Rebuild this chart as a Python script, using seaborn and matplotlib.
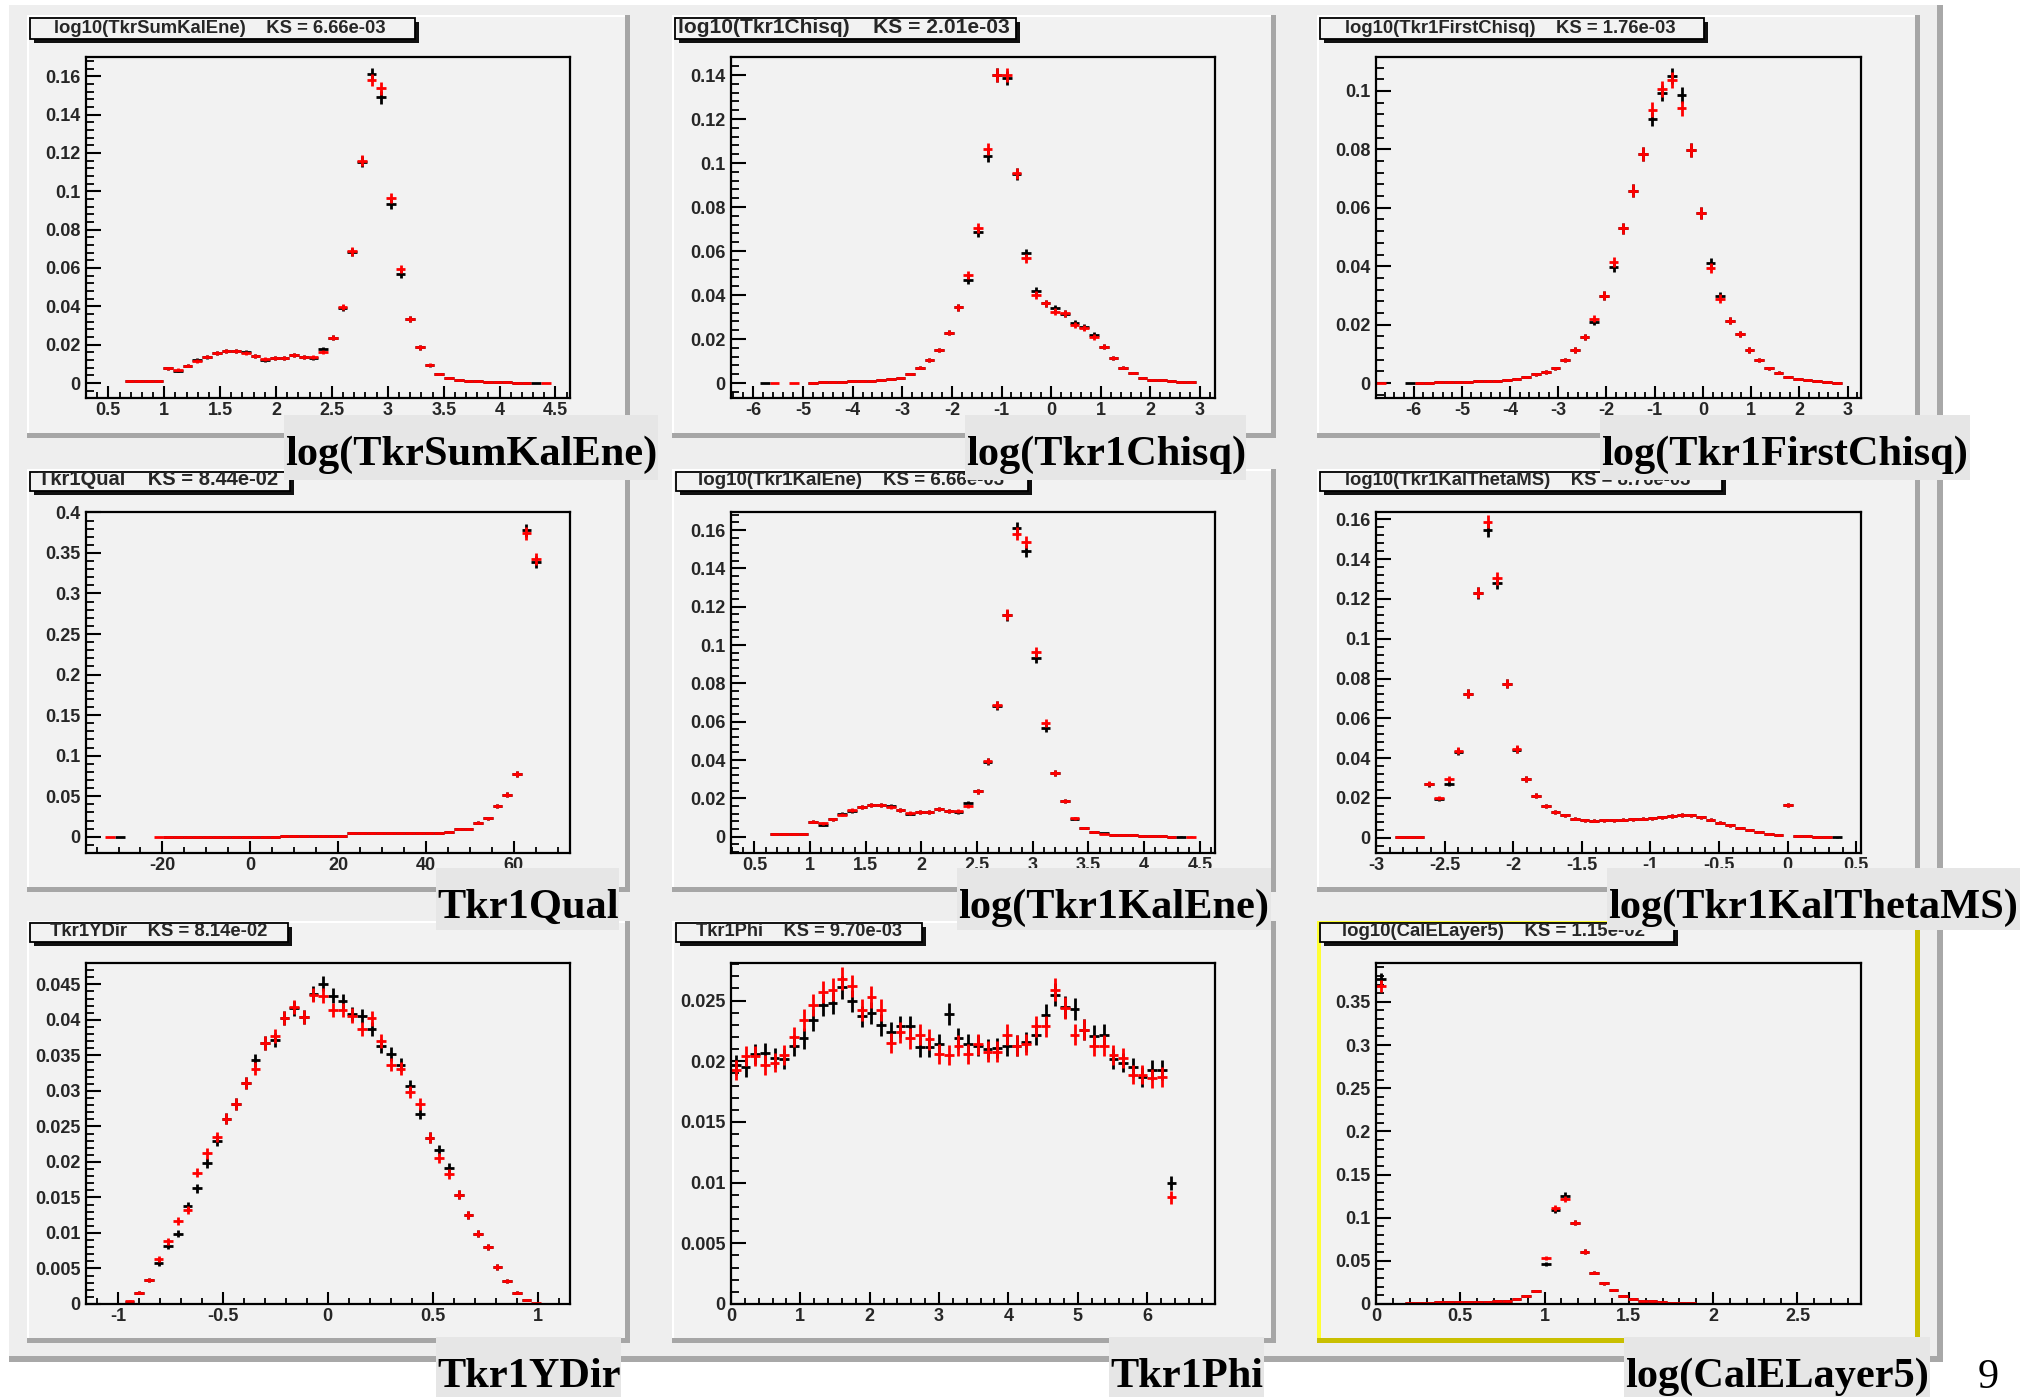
import numpy as np
import matplotlib
matplotlib.use("Agg")
import matplotlib.pyplot as plt
import seaborn as sns
from matplotlib.patches import Rectangle
from matplotlib.ticker import MultipleLocator, FuncFormatter
from matplotlib.transforms import Bbox, TransformedBbox

nan = np.nan

# ---------------- data (normalised bin contents, 50 bins each) ----------------
sumkal_range = (0.30, 4.63)
sumkal_black = [nan, nan, nan, nan, 0.0012, 0.0012, 0.0012, 0.0012, 0.0078, 0.0063,
                0.009, 0.012, 0.0135, 0.0155, 0.0165, 0.0165, 0.016, 0.014, 0.012, 0.013,
                0.013, 0.0145, 0.0135, 0.013, 0.0177, 0.0236, 0.0392, 0.0684, 0.1155, 0.161,
                0.149, 0.0933, 0.0568, 0.0333, 0.0186, 0.0093, 0.0047, 0.0024, 0.0017, 0.0011,
                0.0010, 0.0008, 0.0006, 0.0003, 0.0002, 0.0001, 0.0001, nan, nan, nan]
sumkal_red = [nan, nan, nan, nan, 0.0012, 0.0012, 0.0012, 0.0012, 0.0078, 0.007,
              0.009, 0.0115, 0.0138, 0.0155, 0.0165, 0.0165, 0.0155, 0.014, 0.0125, 0.013,
              0.013, 0.0145, 0.0135, 0.0135, 0.016, 0.0236, 0.0396, 0.0686, 0.1158, 0.158,
              0.1537, 0.0964, 0.0594, 0.0333, 0.0186, 0.0095, 0.0047, 0.0024, 0.0015, 0.0011,
              0.0010, 0.0008, 0.0006, 0.0003, 0.0002, 0.0001, nan, 0.0001, nan, nan]

chisq_range = (-6.45, 3.30)
chisq_black = [nan, nan, nan, 0.0001, nan, nan, nan, nan, 0.0002, 0.0003,
               0.0004, 0.0005, 0.0007, 0.0009, 0.0011, 0.0013, 0.0018, 0.0025, 0.0041, 0.0070,
               0.0105, 0.0150, 0.0229, 0.0344, 0.0468, 0.0688, 0.1032, 0.140, 0.1385, 0.0950,
               0.059, 0.0418, 0.0362, 0.034, 0.0315, 0.0274, 0.0255, 0.0218, 0.0165, 0.0112,
               0.0070, 0.0045, 0.0025, 0.0015, 0.0012, 0.0007, 0.0004, 0.0003, nan, nan]
chisq_red = [nan, nan, nan, nan, 0.0001, nan, 0.0001, nan, 0.0002, 0.0003,
             0.0004, 0.0005, 0.0007, 0.0009, 0.0011, 0.0013, 0.0018, 0.0025, 0.0041, 0.0070,
             0.0105, 0.0150, 0.0229, 0.0344, 0.0491, 0.0703, 0.1062, 0.140, 0.140, 0.0953,
             0.0567, 0.040, 0.0362, 0.0324, 0.0317, 0.0265, 0.0250, 0.021, 0.0165, 0.0112,
             0.0070, 0.0045, 0.0025, 0.0015, 0.0012, 0.0007, 0.0004, 0.0003, nan, nan]

first_range = (-6.78, 3.28)
first_black = [nan, nan, nan, 0.0001, 0.0001, 0.0001, 0.0003, 0.0004, 0.0003, 0.0005,
               0.0006, 0.0007, 0.0008, 0.0010, 0.0015, 0.0022, 0.0030, 0.0038, 0.0050, 0.0079,
               0.0113, 0.0159, 0.0210, 0.0299, 0.0398, 0.0530, 0.0658, 0.0784, 0.0904, 0.0992,
               0.1051, 0.0986, 0.0798, 0.0581, 0.0410, 0.0298, 0.0213, 0.0167, 0.0113, 0.0079,
               0.0050, 0.0035, 0.0022, 0.0015, 0.0010, 0.0007, 0.0005, 0.0002, nan, nan]
first_red = [0.0001, nan, nan, nan, 0.0001, 0.0001, 0.0003, 0.0004, 0.0003, 0.0005,
             0.0006, 0.0007, 0.0008, 0.0010, 0.0015, 0.0022, 0.0030, 0.0038, 0.0050, 0.0079,
             0.0113, 0.0159, 0.0221, 0.0299, 0.0415, 0.0530, 0.0658, 0.0784, 0.0935, 0.1006,
             0.1038, 0.0941, 0.0798, 0.0581, 0.0393, 0.0289, 0.0213, 0.0167, 0.0113, 0.0079,
             0.0050, 0.0035, 0.0022, 0.0015, 0.0010, 0.0007, 0.0005, 0.0002, nan, nan]

qual_range = (-37.4, 72.8)
qual_black = [nan, nan, nan, 0.0001, nan, nan, nan, nan, 0.0003, 0.0003,
              0.0003, 0.0003, 0.0003, 0.0003, 0.0003, 0.0003, 0.0003, 0.0003, 0.0003, 0.0003,
              0.0012, 0.0012, 0.0012, 0.0012, 0.0012, 0.0012, 0.0012, 0.0042, 0.0042, 0.0042,
              0.0042, 0.0042, 0.0042, 0.0042, 0.0042, 0.0042, 0.0042, 0.0055, 0.0095, 0.0095,
              0.0173, 0.0226, 0.0382, 0.0521, 0.0772, 0.378, 0.3385, nan, nan, nan]
qual_red = [nan, nan, 0.0001, nan, nan, nan, nan, 0.0001, 0.0003, 0.0003,
            0.0003, 0.0003, 0.0003, 0.0003, 0.0003, 0.0003, 0.0003, 0.0003, 0.0003, 0.0003,
            0.0012, 0.0012, 0.0012, 0.0012, 0.0012, 0.0012, 0.0012, 0.0042, 0.0042, 0.0042,
            0.0042, 0.0042, 0.0042, 0.0042, 0.0042, 0.0042, 0.0042, 0.0055, 0.0095, 0.0095,
            0.0173, 0.0226, 0.0382, 0.0521, 0.0772, 0.374, 0.3426, nan, nan, nan]

kalene_range = (0.29, 4.636)
kalene_black = [nan, nan, nan, nan, 0.0012, 0.0012, 0.0012, 0.0012, 0.0078, 0.0063,
                0.009, 0.012, 0.0135, 0.0155, 0.0165, 0.0165, 0.016, 0.014, 0.012, 0.013,
                0.013, 0.0145, 0.0135, 0.013, 0.0177, 0.0236, 0.0392, 0.0684, 0.1155, 0.161,
                0.149, 0.0933, 0.0568, 0.0333, 0.0186, 0.0093, 0.0047, 0.0024, 0.0017, 0.0011,
                0.0010, 0.0008, 0.0006, 0.0003, 0.0002, 0.0001, 0.0001, nan, nan, nan]
kalene_red = [nan, nan, nan, nan, 0.0012, 0.0012, 0.0012, 0.0012, 0.0078, 0.007,
              0.009, 0.0115, 0.0138, 0.0155, 0.0165, 0.0165, 0.0155, 0.014, 0.0125, 0.013,
              0.013, 0.0145, 0.0135, 0.0135, 0.016, 0.0236, 0.0396, 0.0686, 0.1158, 0.158,
              0.1537, 0.0964, 0.0594, 0.0333, 0.0186, 0.0095, 0.0047, 0.0024, 0.0015, 0.0011,
              0.0010, 0.0008, 0.0006, 0.0003, 0.0002, 0.0001, nan, 0.0001, nan, nan]

thetams_range = (-3.0, 0.534)
thetams_black = [nan, nan, 0.0001, 0.0001, 0.0001, 0.0268, 0.0194, 0.0272, 0.0432, 0.0723,
                 0.1228, 0.1547, 0.128, 0.0774, 0.0442, 0.0294, 0.021, 0.016, 0.013, 0.0112,
                 0.0095, 0.0088, 0.0086, 0.0087, 0.0088, 0.009, 0.0092, 0.0095, 0.0098, 0.0102,
                 0.0108, 0.0115, 0.0112, 0.0102, 0.009, 0.0075, 0.0062, 0.005, 0.0038, 0.0027,
                 0.0018, 0.0012, 0.0165, 0.001, 0.0006, 0.0002, 0.0001, 0.0001, nan, nan]
thetams_red = [nan, nan, 0.0001, 0.0001, 0.0001, 0.0272, 0.020, 0.0294, 0.0437, 0.0723,
               0.1232, 0.1589, 0.1303, 0.0774, 0.0446, 0.0294, 0.021, 0.016, 0.013, 0.0112,
               0.0095, 0.0088, 0.0086, 0.0087, 0.0088, 0.009, 0.0092, 0.0095, 0.0098, 0.0102,
               0.0108, 0.0115, 0.0112, 0.0102, 0.009, 0.0075, 0.0062, 0.005, 0.0038, 0.0027,
               0.0018, 0.0012, 0.0165, 0.001, 0.0006, 0.0002, 0.0001, nan, nan, nan]

ydir_range = (-1.152, 1.154)
ydir_black = [nan, nan, nan, nan, 0.0003, 0.0016, 0.0034, 0.0058, 0.0082, 0.0099,
              0.0138, 0.0163, 0.0199, 0.023, 0.0261, 0.0282, 0.0311, 0.0343, 0.0367, 0.0372,
              0.0403, 0.0416, 0.0404, 0.0437, 0.0451, 0.0434, 0.0426, 0.0408, 0.0405, 0.0387,
              0.0363, 0.0352, 0.0337, 0.0307, 0.0268, 0.0234, 0.0217, 0.0192, 0.0154, 0.0125,
              0.0099, 0.0080, 0.0052, 0.0033, 0.0016, 0.0005, nan, nan, nan, nan]
ydir_red = [nan, nan, nan, nan, 0.0004, 0.0016, 0.0034, 0.0063, 0.0088, 0.0117,
            0.0132, 0.0185, 0.0212, 0.0235, 0.0261, 0.0282, 0.0311, 0.0331, 0.0367, 0.0377,
            0.0403, 0.0418, 0.0404, 0.0435, 0.0434, 0.0414, 0.0414, 0.0406, 0.0387, 0.0402,
            0.037, 0.0337, 0.0331, 0.0298, 0.0281, 0.0234, 0.0206, 0.0183, 0.0154, 0.0125,
            0.0099, 0.0080, 0.0052, 0.0033, 0.0016, 0.0005, 0.0001, nan, nan, nan]

phi_range = (0.0, 6.981)
phi_black = [0.0197, 0.0195, 0.0206, 0.0207, 0.0203, 0.0202, 0.0213, 0.0219, 0.0234, 0.0246,
             0.0248, 0.0261, 0.025, 0.0237, 0.024, 0.023, 0.0224, 0.0229, 0.0229, 0.0212,
             0.0212, 0.0214, 0.0239, 0.0219, 0.0214, 0.0213, 0.021, 0.0211, 0.0213, 0.0213,
             0.0216, 0.0222, 0.0238, 0.0255, 0.0245, 0.0243, 0.0226, 0.0221, 0.0222, 0.0202,
             0.0199, 0.0195, 0.0187, 0.0193, 0.0193, 0.0100, nan, nan, nan, nan]
phi_red = [0.0193, 0.0204, 0.0204, 0.0197, 0.0199, 0.0205, 0.022, 0.0234, 0.0246, 0.0257,
           0.0259, 0.0268, 0.0262, 0.0242, 0.0253, 0.0242, 0.0215, 0.0224, 0.0219, 0.0222,
           0.0218, 0.0206, 0.0205, 0.0213, 0.0206, 0.0214, 0.0208, 0.0208, 0.0222, 0.0213,
           0.0214, 0.0229, 0.0229, 0.0259, 0.0244, 0.0222, 0.0226, 0.0213, 0.0213, 0.0205,
           0.0203, 0.0189, 0.0189, 0.0186, 0.0187, 0.0088, nan, nan, nan, nan]

layer5_range = (0.0, 2.877)
layer5_black = [0.376, 0.0003, 0.0005, 0.0008, 0.0012, 0.0015, 0.0018, 0.002, 0.0025, 0.0022,
                0.0022, 0.0028, 0.0032, 0.0035, 0.006, 0.009, 0.0151, 0.046, 0.109, 0.1254,
                0.0944, 0.0608, 0.0364, 0.024, 0.0159, 0.0093, 0.0062, 0.004, 0.003, 0.002,
                0.0015, 0.001, 0.0008, 0.0005, 0.0004, 0.0003, 0.0003, 0.0002, 0.0002, 0.0001,
                0.0001, 0.0001, 0.0001, 0.0001, 0.0001, nan, nan, nan, nan, nan]
layer5_red = [0.368, 0.0003, 0.0005, 0.0008, 0.0012, 0.0015, 0.0018, 0.002, 0.0025, 0.0022,
              0.0022, 0.0028, 0.0032, 0.0035, 0.006, 0.009, 0.0151, 0.053, 0.111, 0.1216,
              0.0944, 0.0608, 0.0364, 0.024, 0.0159, 0.0093, 0.0062, 0.004, 0.003, 0.002,
              0.0015, 0.001, 0.0008, 0.0005, 0.0004, 0.0003, 0.0003, 0.0002, 0.0002, 0.0001,
              0.0001, 0.0001, 0.0001, 0.0001, 0.0001, nan, nan, nan, nan, nan]

# effective number of entries (sets the size of the statistical error bars)
n_entries = [14000, 14000, 14000, 6000, 14000, 14000, 40000, 30000, 8000]

titles = ["log10(TkrSumKalEne)    KS = 6.66e-03",
          "log10(Tkr1Chisq)    KS = 2.01e-03",
          "log10(Tkr1FirstChisq)    KS = 1.76e-03",
          "Tkr1Qual    KS = 8.44e-02",
          "log10(Tkr1KalEne)    KS = 6.66e-03",
          "log10(Tkr1KalThetaMS)    KS = 8.76e-03",
          "Tkr1YDir    KS = 8.14e-02",
          "Tkr1Phi    KS = 9.70e-03",
          "log10(CalELayer5)    KS = 1.15e-02"]
labels = ["log(TkrSumKalEne)", "log(Tkr1Chisq)", "log(Tkr1FirstChisq)",
          "Tkr1Qual", "log(Tkr1KalEne)", "log(Tkr1KalThetaMS)",
          "Tkr1YDir", "Tkr1Phi", "log(CalELayer5)"]
page_number = "9"

# ---------------- panel configuration ----------------
hists = [
    (sumkal_range, sumkal_black, sumkal_red),
    (chisq_range, chisq_black, chisq_red),
    (first_range, first_black, first_red),
    (qual_range, qual_black, qual_red),
    (kalene_range, kalene_black, kalene_red),
    (thetams_range, thetams_black, thetams_red),
    (ydir_range, ydir_black, ydir_red),
    (phi_range, phi_black, phi_red),
    (layer5_range, layer5_black, layer5_red),
]
ylims = [(-0.0078, 0.170), (-0.0068, 0.1482), (-0.0051, 0.1116),
         (-0.020, 0.4005), (-0.0085, 0.1694), (-0.0077, 0.1637),
         (0.0, 0.048), (0.0, 0.0281), (0.0, 0.395)]
xticks = [(0.5, 0.1), (1, 0.2), (1, 0.2), (20, 5), (0.5, 0.1), (0.5, 0.1),
          (0.5, 0.1), (1, 0.2), (0.5, 0.1)]
yticks = [(0.02, 0.004), (0.02, 0.004), (0.02, 0.004), (0.05, 0.01), (0.02, 0.004),
          (0.02, 0.004), (0.005, 0.001), (0.005, 0.001), (0.05, 0.01)]

# ---------------- layout (pixel coordinates, y from top) ----------------
W, H = 2024, 1397
col_pad = [(27, 630), (672, 1276), (1317, 1920)]
row_pad = [(15, 438), (469, 892), (921, 1343)]
col_ax = [(86, 570), (731, 1215), (1376, 1861)]
row_ax = [(57, 398), (512, 853), (963, 1304)]
title_boxes = [(30, 18, 415, 39), (675, 18, 1016, 39), (1320, 18, 1704, 39),
               (30, 472, 290, 491), (676, 472, 1028, 491), (1320, 472, 1722, 491),
               (30, 923, 288, 942), (676, 923, 922, 942), (1320, 923, 1674, 942)]
title_text_x = [(54, 386), (678, 1007), (1345, 1674), (38, 277), (698, 1004),
                (1345, 1690), (50, 267), (696, 900), (1342, 1645)]
title_baseline = [33, 33, 33, 485, 485, 485, 936, 936, 936]
label_boxes = [(284, 415, 658, 480), (965, 415, 1246, 480), (1600, 415, 1970, 480),
               (436, 868, 619, 930), (957, 868, 1271, 930), (1607, 868, 2020, 930),
               (436, 1337, 621, 1397), (1109, 1337, 1264, 1397), (1624, 1337, 1930, 1397)]

sns.set_style("ticks")
plt.rcParams["font.family"] = ["Liberation Sans", "DejaVu Sans"]
plt.rcParams["axes.unicode_minus"] = False

fig = plt.figure(figsize=(W / 100, H / 100), dpi=100, facecolor="white")


def add_rect(x0, y0, x1, y1, fc, z):
    r = Rectangle((x0 / W, 1 - y1 / H), (x1 - x0) / W, (y1 - y0) / H,
                  transform=fig.transFigure, fc=fc, ec="none", lw=0, zorder=z)
    fig.add_artist(r)
    return r


# outer frame
add_rect(9, 5, 1943, 1362, "#eeeeee", -10)
add_rect(1937, 5, 1943, 1362, "#a8a8a8", -9)
add_rect(9, 1356, 1943, 1362, "#a8a8a8", -9)

# pads
for i in range(9):
    r, c = divmod(i, 3)
    x0, x1 = col_pad[c]
    y0, y1 = row_pad[r]
    add_rect(x0, y0, x1, y1, "#f2f2f2", -8)
    if i == 8:
        add_rect(x0, y0, x0 + 4, y1, "#ffff33", -7)
        add_rect(x0, y0, x1, y0 + 4, "#ffff33", -7)
        add_rect(x1 - 5, y0, x1, y1, "#c9bf00", -7)
        add_rect(x0, y1 - 5, x1, y1, "#c9bf00", -7)
    else:
        add_rect(x0, y0, x0 + 2, y1, "#ffffff", -7)
        add_rect(x0, y0, x1, y0 + 2, "#ffffff", -7)
        add_rect(x1 - 5, y0, x1, y1, "#a6a6a6", -7)
        add_rect(x0, y1 - 5, x1, y1, "#a6a6a6", -7)

fmt = FuncFormatter(lambda v, p: "%g" % round(v, 6))

for i in range(9):
    r, c = divmod(i, 3)
    ax0, ax1 = col_ax[c]
    ay0, ay1 = row_ax[r]
    ax = fig.add_axes([ax0 / W, 1 - ay1 / H, (ax1 - ax0) / W, (ay1 - ay0) / H])
    ax.set_facecolor("none")
    (lo, hi), black, red = hists[i]
    n = len(black)
    w = (hi - lo) / n
    centers = lo + w * (np.arange(n) + 0.5)
    for vals, col in ((black, "black"), (red, "#ff0000")):
        v = np.asarray(vals, dtype=float)
        m = ~np.isnan(v)
        err = np.sqrt(np.clip(v[m], 0, None) / n_entries[i])
        ax.errorbar(centers[m], v[m], xerr=w / 2, yerr=err, fmt="none",
                    ecolor=col, elinewidth=2.0, capsize=0)
    ax.set_xlim(lo, hi)
    ax.set_ylim(*ylims[i])
    ax.xaxis.set_major_locator(MultipleLocator(xticks[i][0]))
    ax.xaxis.set_minor_locator(MultipleLocator(xticks[i][1]))
    ax.yaxis.set_major_locator(MultipleLocator(yticks[i][0]))
    ax.yaxis.set_minor_locator(MultipleLocator(yticks[i][1]))
    ax.xaxis.set_major_formatter(fmt)
    ax.yaxis.set_major_formatter(fmt)
    for s in ax.spines.values():
        s.set_linewidth(1.6)
        s.set_color("black")
    ax.tick_params(axis="y", which="major", direction="in", length=10.5, width=1.5,
                   pad=4, color="black")
    ax.tick_params(axis="y", which="minor", direction="in", length=5.5, width=1.3,
                   color="black")
    ax.tick_params(axis="x", which="major", direction="in", length=8.5, width=1.5,
                   pad=3, color="black")
    ax.tick_params(axis="x", which="minor", direction="in", length=4.5, width=1.3,
                   color="black")
    for lab in ax.get_xticklabels() + ax.get_yticklabels():
        lab.set_family("Liberation Sans")
        lab.set_fontsize(13)
        lab.set_fontweight("bold")

renderer = fig.canvas.get_renderer()

# title boxes with drop shadow
for i in range(9):
    x0, y0, x1, y1 = title_boxes[i]
    add_rect(x0 + 4, y0 + 4, x1 + 4, y1 + 4, "#111111", 5)
    box = add_rect(x0, y0, x1, y1, "#f2f2f2", 6)
    box.set_edgecolor("black")
    box.set_linewidth(1.3)
    tx0, tx1 = title_text_x[i]
    t = fig.text(tx0 / W, 1 - title_baseline[i] / H, titles[i], ha="left",
                 va="baseline", fontsize=12, fontweight="bold",
                 family="Liberation Sans", zorder=7)
    wpx = t.get_window_extent(renderer).width
    t.set_fontsize(12 * (tx1 - tx0) / wpx)
    t.set_clip_box(TransformedBbox(Bbox([[x0 / W, 1 - y1 / H], [x1 / W, 1 - y0 / H]]),
                                   fig.transFigure))
    t.set_clip_on(True)

# big serif labels
for i in range(9):
    x0, y0, x1, y1 = label_boxes[i]
    add_rect(x0, y0, x1, y1, "#e6e6e6", 10)
    fig.text((x0 + 1) / W, 1 - (y0 + 50) / H, labels[i], ha="left", va="baseline",
             fontsize=30.5, fontweight="bold", family="Liberation Serif",
             color="black", zorder=11)

fig.text(1978 / W, 1 - 1388 / H, page_number, ha="left", va="baseline",
         fontsize=30.5, family="Liberation Serif", color="black", zorder=11)

fig.savefig("out.png", dpi=100, facecolor="white")
